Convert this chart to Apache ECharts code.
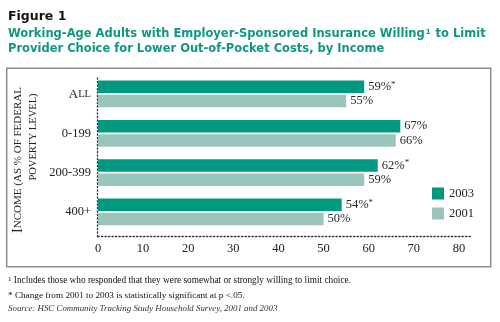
<!DOCTYPE html>
<html>
<head>
<meta charset="utf-8">
<script src="https://cdn.jsdelivr.net/npm/echarts@6/dist/echarts.min.js"></script>
<style>html,body{margin:0;padding:0;background:#fff;}#c{width:500px;height:322px;}</style>
</head>
<body>
<div id="c"></div>
<script>
const categories = ['All', '0-199', '200-399', '400+'];
const values2003 = [59, 67, 62, 54];
const values2001 = [55, 66, 59, 50];
const significant2003 = [true, false, true, true];
const xTickLabels = ['0', '10', '20', '30', '40', '50', '60', '70', '80'];
const seriesNames = ['2003', '2001'];

const SERIF = '"Liberation Serif", "DejaVu Serif", serif';
const SANS = '"DejaVu Sans", sans-serif';
const DARK = '#00987f';
const LIGHT = '#9bc5bc';
const TITLE_GREEN = '#10977f';

const chart = echarts.init(document.getElementById('c'), null, {renderer: 'canvas'});

const valueLabel = (sigArr) => ({
  show: true,
  position: 'right',
  distance: 4,
  fontFamily: SERIF,
  fontSize: 12.5,
  color: '#2a2a2a',
  formatter: (p) => (sigArr && sigArr[p.dataIndex]) ? '{v|' + p.value + '%}{s|*}' : '{v|' + p.value + '%}',
  rich: {
    v: {fontFamily: SERIF, fontSize: 12.5, color: '#2a2a2a'},
    s: {fontFamily: SERIF, fontSize: 9, color: '#2a2a2a', verticalAlign: 'top', padding: [0, 0, 5, 0]}
  }
});

const option = {
  animation: false,
  backgroundColor: '#fff',
  grid: [
    {left: 98, top: 74.3, width: 374.5, height: 157.3},
    {left: 97.5, top: 76.7, width: 375, height: 160}
  ],
  xAxis: [
    {
      type: 'value', gridIndex: 0, min: 0, max: 83, interval: 10, offset: 5,
      axisLine: {show: true, lineStyle: {color: '#333', width: 1.3, type: [1.3, 2.2]}},
      axisTick: {show: false},
      splitLine: {show: false},
      axisLabel: {
        showMaxLabel: false, margin: 6, color: '#222', fontFamily: SERIF, fontSize: 12.5,
        formatter: (v) => xTickLabels[Math.round(v / 10)] || ''
      }
    },
    {type: 'value', gridIndex: 1, min: 0, max: 83, show: false}
  ],
  yAxis: [
    {
      type: 'category', gridIndex: 0, data: categories, inverse: true,
      axisLine: {show: false}, axisTick: {show: false},
      axisLabel: {
        margin: 7, color: '#222', fontFamily: SERIF, fontSize: 12.5,
        formatter: (v) => v === 'All' ? '{a|A}{b|LL}' : '{n|' + v + '}',
        rich: {
          a: {fontFamily: SERIF, fontSize: 13.5, color: '#222'},
          b: {fontFamily: SERIF, fontSize: 10.5, color: '#222'},
          n: {fontFamily: SERIF, fontSize: 12.5, color: '#222'}
        }
      }
    },
    {
      type: 'category', gridIndex: 1, data: [''],
      axisLine: {show: true, lineStyle: {color: '#333', width: 1.3, type: [1.3, 2.2]}},
      axisTick: {show: false}, axisLabel: {show: false}
    }
  ],
  legend: {
    orient: 'vertical', left: 427, top: 182, itemWidth: 12, itemHeight: 12, itemGap: 7,
    icon: 'rect', data: seriesNames,
    textStyle: {fontFamily: SERIF, fontSize: 12.5, color: '#222'}
  },
  series: [
    {
      name: seriesNames[0], type: 'bar', xAxisIndex: 0, yAxisIndex: 0,
      data: values2003, barWidth: 12.5, barGap: '14%',
      itemStyle: {color: DARK},
      label: valueLabel(significant2003)
    },
    {
      name: seriesNames[1], type: 'bar', xAxisIndex: 0, yAxisIndex: 0,
      data: values2001, barWidth: 12.5, barGap: '14%',
      itemStyle: {color: LIGHT},
      label: valueLabel(null)
    }
  ],
  graphic: [
    {type: 'rect', shape: {x: 6.7, y: 68.3, width: 484, height: 198.4}, style: {fill: 'none', stroke: '#8c8c8c', lineWidth: 1.5}, z: -1},
    {type: 'text', x: 8, y: 10.5, style: {text: 'Figure 1', fontFamily: SANS, fontWeight: 'bold', fontSize: 12.5, fill: '#111'}},
    {type: 'text', x: 8, y: 28.5, style: {
      text: 'Working-Age Adults with Employer-Sponsored Insurance Willing{sup|1} to Limit',
      fontFamily: SANS, fontWeight: 'bold', fontSize: 11.5, fill: TITLE_GREEN,
      rich: {sup: {fontFamily: SANS, fontWeight: 'bold', fontSize: 7, fill: TITLE_GREEN, verticalAlign: 'top', padding: [0, 1, 5, 1]}}
    }},
    {type: 'text', x: 8, y: 43, style: {
      text: 'Provider Choice for Lower Out-of-Pocket Costs, by Income',
      fontFamily: SANS, fontWeight: 'bold', fontSize: 11.5, fill: TITLE_GREEN
    }},
    {type: 'text', x: 18.5, y: 160, rotation: Math.PI / 2, style: {
      text: '{a|I}{b|NCOME (AS % OF FEDERAL}', align: 'center', verticalAlign: 'middle',
      rich: {
        a: {fontFamily: SERIF, fontSize: 14.5, fill: '#222'},
        b: {fontFamily: SERIF, fontSize: 11, fill: '#222'}
      }
    }},
    {type: 'text', x: 33.5, y: 137, rotation: Math.PI / 2, style: {
      text: '{b|POVERTY LEVEL)}', align: 'center', verticalAlign: 'middle',
      rich: {b: {fontFamily: SERIF, fontSize: 10.5, fill: '#222'}}
    }},
    {type: 'text', x: 8, y: 281, style: {
      text: '{sup|1} Includes those who responded that they were somewhat or strongly willing to limit choice.',
      fontFamily: SERIF, fontSize: 9.3, fill: '#111', verticalAlign: 'middle',
      rich: {sup: {fontFamily: SERIF, fontSize: 7, fill: '#111', verticalAlign: 'top', padding: [0, 0, 4, 0]}}
    }},
    {type: 'text', x: 8, y: 295.5, style: {
      text: '* Change from 2001 to 2003 is statistically significant at p <.05.',
      fontFamily: SERIF, fontSize: 9.2, fill: '#111', verticalAlign: 'middle'
    }},
    {type: 'text', x: 8, y: 308.5, style: {
      text: 'Source: HSC Community Tracking Study Household Survey, 2001 and 2003',
      fontFamily: SERIF, fontStyle: 'italic', fontSize: 8.9, fill: '#333', verticalAlign: 'middle'
    }}
  ]
};
chart.setOption(option);
</script>
</body>
</html>
